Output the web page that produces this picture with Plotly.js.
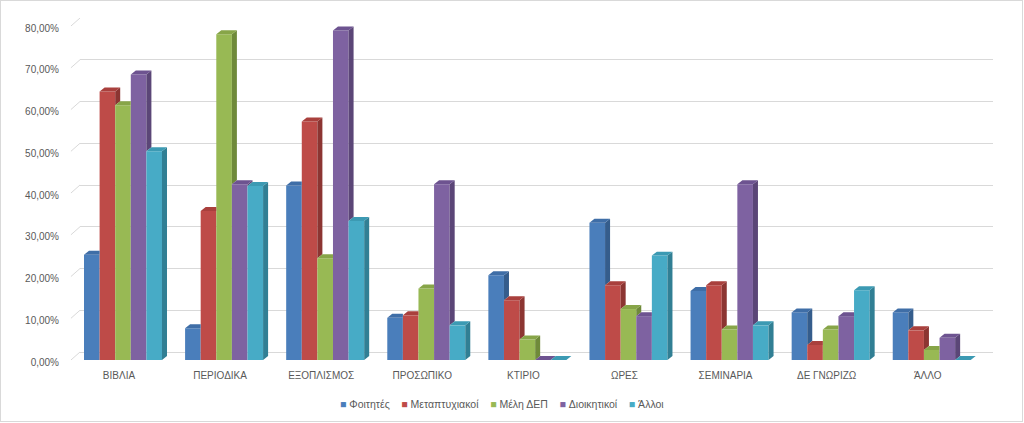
<!DOCTYPE html>
<html>
<head>
<meta charset="utf-8">
<script src="https://cdn.plot.ly/plotly-3.0.1.min.js"></script>
<style>
  html, body { margin: 0; padding: 0; background: #ffffff; }
  #wrap { position: relative; width: 1024px; height: 423px; }
  #chart { position: absolute; left: 0; top: 0; width: 1024px; height: 423px; }
  #frame { position: absolute; left: 0; top: 0; width: 1023px; height: 422px; box-sizing: border-box;
           border: 1px solid #d9d9d9; pointer-events: none; }
</style>
</head>
<body>
<div id="wrap"><div id="chart"></div><div id="frame"></div></div>
<script>
// ---- data ----
const categories = ["ΒΙΒΛΙΑ", "ΠΕΡΙΟΔΙΚΑ", "ΕΞΟΠΛΙΣΜΟΣ", "ΠΡΟΣΩΠΙΚΟ", "ΚΤΙΡΙΟ", "ΩΡΕΣ", "ΣΕΜΙΝΑΡΙΑ", "ΔΕ ΓΝΩΡΙΖΩ", "ΆΛΛΟ"];
const seriesNames = ["Φοιτητές", "Μεταπτυχιακοί", "Μέλη ΔΕΠ", "Διοικητικοί", "Άλλοι"];
const foitites       = [0.252, 0.076, 0.418, 0.101, 0.203, 0.329, 0.165, 0.114, 0.114];
const metaptyxiakoi  = [0.643, 0.357, 0.571, 0.107, 0.143, 0.179, 0.179, 0.036, 0.071];
const melhDEP        = [0.610, 0.780, 0.244, 0.171, 0.049, 0.122, 0.073, 0.073, 0.024];
const dioikitikoi    = [0.684, 0.421, 0.789, 0.421, 0.000, 0.105, 0.421, 0.105, 0.053];
const alloi          = [0.500, 0.417, 0.333, 0.083, 0.000, 0.250, 0.083, 0.167, 0.000];
const yTicks = [0, 0.1, 0.2, 0.3, 0.4, 0.5, 0.6, 0.7, 0.8];

// ---- styles ----
const values = [foitites, metaptyxiakoi, melhDEP, dioikitikoi, alloi];
const frontColors = ["#4a7ebb", "#be4b48", "#98b954", "#7e62a1", "#47abc6"];
const sideColors  = ["#355d8c", "#8c3532", "#6f8a3a", "#5b4677", "#317f94"];
const topColors   = ["#3f6ea7", "#a9403d", "#87a548", "#6d5390", "#3c9ab3"];

const nS = values.length;
const groupW = 0.7715;          // fraction of category occupied by a cluster
const w = groupW / nS;          // bar width (category units)
const dx = 0.0495;              // 3D depth, x (category units)
const dy = 0.00958;             // 3D depth, y (value units)
const wallShift = 0.01916;      // back wall vs front plane, y (value units)
const wallDx = 0.0099;          // left wall depth (paper units)

const xs = categories.map((c, k) => k);
const traces = [];

// invisible trace on the primary (back wall) axis so that its grid and labels are drawn
traces.push({ type: "scatter", mode: "markers", x: [0], y: [0], yaxis: "y",
  marker: { opacity: 0, size: 1 }, showlegend: false, hoverinfo: "skip" });

// front faces (bars)
for (let i = 0; i < nS; i++) {
  traces.push({
    type: "bar", x: xs, y: values[i], name: seriesNames[i], yaxis: "y2",
    width: w, offset: -groupW / 2 + i * w,
    marker: { color: frontColors[i], line: { width: 0 } },
    showlegend: false, hoverinfo: "y+name"
  });
}

// side and top faces (computed from data)
for (let i = 0; i < nS; i++) {
  const sx = [], sy = [], tx = [], ty = [];
  for (let k = 0; k < xs.length; k++) {
    const v = values[i][k];
    const next = i < nS - 1 ? values[i + 1][k] : 0;
    const xl = xs[k] - groupW / 2 + i * w;
    const xr = xl + w;
    if (v > next || i === nS - 1) {
      const b = Math.min(next, v);
      sx.push(xr, xr + dx, xr + dx, xr, xr, null);
      sy.push(b, b + dy, v + dy, v, b, null);
    }
    if (i < nS - 1 && next >= v + dy / 2) {
      tx.push(xl, xl + dx, xr, xr, xl, null);
      ty.push(v, v + dy, v + dy, v, v, null);
    } else {
      tx.push(xl, xl + dx, xr + dx, xr, xl, null);
      ty.push(v, v + dy, v + dy, v, v, null);
    }
  }
  traces.push({ type: "scatter", mode: "none", x: sx, y: sy, yaxis: "y2", fill: "toself",
    fillcolor: sideColors[i], showlegend: false, hoverinfo: "skip" });
  traces.push({ type: "scatter", mode: "none", x: tx, y: ty, yaxis: "y2", fill: "toself",
    fillcolor: topColors[i], showlegend: false, hoverinfo: "skip" });
}

// left-wall continuation of the gridlines (3D perspective)
const wallShapes = yTicks.map(t => ({
  type: "line", xref: "paper", yref: "y", x0: -wallDx, x1: 0, y0: t - wallShift, y1: t,
  line: { color: "#d9d9d9", width: 1 }, layer: "below"
}));

// compact legend (Excel style: small square right before each name)
const legendText = seriesNames.map((n, i) =>
  "<span style='color:" + frontColors[i] + "'>■</span>\u00a0" + n).join("\u00a0\u00a0\u00a0\u00a0");

const font = "'Liberation Sans', Arial, sans-serif";
const layout = {
  width: 1024, height: 423,
  margin: { l: 80, r: 31, t: 18, b: 63 },
  paper_bgcolor: "rgba(0,0,0,0)", plot_bgcolor: "rgba(0,0,0,0)",
  separators: ",.",
  font: { family: font, size: 10, color: "#595959" },
  barmode: "overlay",
  showlegend: false,
  xaxis: {
    range: [-0.4253, 8.606], tickvals: xs, ticktext: categories,
    showgrid: false, zeroline: false, showline: false, ticks: "",
    ticklabelshift: -4, ticklabelstandoff: 8,
    tickfont: { family: font, size: 10, color: "#595959" }, fixedrange: true
  },
  yaxis: {
    range: [-wallShift, 0.8], tickvals: yTicks, tickformat: ".2%",
    showgrid: true, gridcolor: "#d9d9d9", gridwidth: 1,
    zeroline: false, showline: false, ticks: "",
    ticklabelshift: 10, ticklabelstandoff: 20,
    tickfont: { family: font, size: 10, color: "#595959" }, fixedrange: true
  },
  yaxis2: {
    overlaying: "y", range: [0, 0.8 + wallShift], visible: false, fixedrange: true
  },
  shapes: wallShapes,
  annotations: [{
    xref: "paper", yref: "paper", x: 0.462, y: -0.1287, xanchor: "center", yanchor: "middle",
    showarrow: false, text: legendText,
    font: { family: font, size: 10.5, color: "#595959" }
  }]
};

Plotly.newPlot("chart", traces, layout, { displayModeBar: false, staticPlot: true });
</script>
</body>
</html>
